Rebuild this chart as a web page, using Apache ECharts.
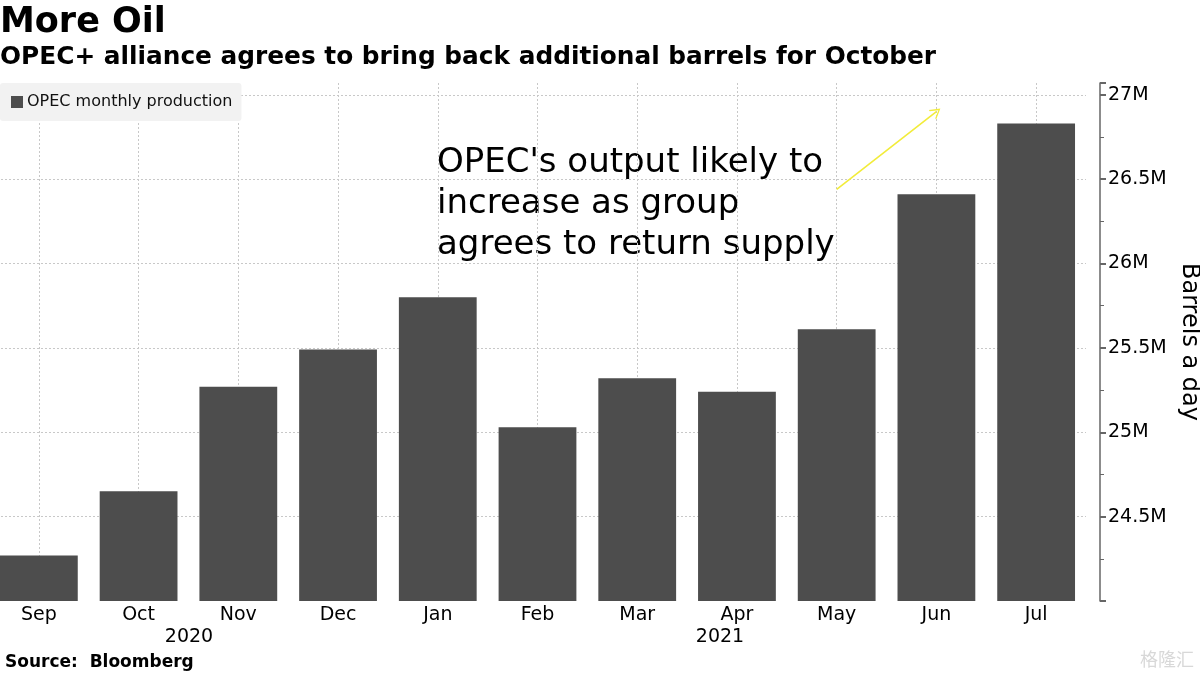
<!DOCTYPE html>
<html>
<head>
<meta charset="utf-8">
<script src="https://cdn.jsdelivr.net/npm/echarts@6/dist/echarts.min.js"></script>
<style>
  html, body { margin: 0; padding: 0; background: #fff; }
  #chart { width: 1200px; height: 675px; }
</style>
</head>
<body>
<div id="chart"></div>
<script>
// 月份 + 产量 (百万桶/日)
const months = ['Sep', 'Oct', 'Nov', 'Dec', 'Jan', 'Feb', 'Mar', 'Apr', 'May', 'Jun', 'Jul']
const production = [24.27, 24.65, 25.27, 25.49, 25.80, 25.03, 25.32, 25.24, 25.61, 26.41, 26.83]
const yearLabels = ['2020', '2021']
// arrow: from May to Jun, in data units
const arrowFrom = ['May', 26.44]
const arrowTo = ['Jun', 26.9]

const font = 'DejaVu Sans'
const chart = echarts.init(document.getElementById('chart'))

const option = {
  animation: false,
  textStyle: { fontFamily: font },
  grid: { left: -11, right: 114, top: 83, bottom: 74, outerBoundsMode: 'none', containLabel: false },
  legend: {
    left: 0,
    top: 83,
    backgroundColor: '#f2f2f2',
    borderRadius: 3,
    padding: [11, 9, 11, 11],
    icon: 'rect',
    itemWidth: 12,
    itemHeight: 12,
    itemGap: 4,
    textStyle: { fontSize: 16, color: '#111', fontFamily: font, padding: [0, 0, 0, -1] }
  },
  xAxis: {
    type: 'category',
    data: months,
    axisLine: { show: false },
    axisTick: { show: false },
    axisLabel: { fontSize: 19, color: '#000', margin: 5, interval: 0, fontFamily: font },
    splitLine: {
      show: true,
      alignWithLabel: true,
      interval: 0,
      lineStyle: { color: '#c8c8c8', type: [2, 2], width: 1 }
    }
  },
  yAxis: {
    type: 'value',
    position: 'right',
    offset: 14,
    min: 24,
    max: 27.07,
    interval: 0.5,
    name: 'Barrels a day',
    nameLocation: 'middle',
    nameRotate: -90,
    nameGap: 65,
    nameTextStyle: { fontSize: 24, color: '#000', fontFamily: font },
    axisLine: { show: true, lineStyle: { color: '#666', width: 1.5 } },
    axisTick: { show: true, length: 6, lineStyle: { color: '#666', width: 2 } },
    minorTick: { show: true, splitNumber: 2, length: 4, lineStyle: { color: '#666' } },
    axisLabel: {
      fontSize: 19,
      color: '#000',
      margin: 8,
      fontFamily: font,
      showMinLabel: false,
      showMaxLabel: false,
      formatter: (v) => (v >= 24.5 && Math.abs(v * 2 - Math.round(v * 2)) < 1e-6) ? v + 'M' : ''
    },
    splitLine: {
      show: true,
      showMinLine: false,
      showMaxLine: false,
      lineStyle: { color: '#c8c8c8', type: [2, 2], width: 1 }
    }
  },
  series: [
    {
      name: 'OPEC monthly production',
      type: 'bar',
      data: production,
      barCategoryGap: '22%',
      itemStyle: { color: '#4d4d4d' },
      markLine: {
        silent: true,
        symbol: ['none', 'path://M0,12 L6,0 L12,12 L10.5,12 L6,3 L1.5,12 Z'],
        symbolSize: [12, 10],
        label: { show: false },
        lineStyle: { color: '#f2ec3a', width: 1.6, type: 'solid' },
        itemStyle: { color: '#f2ec3a' },
        data: [[{ coord: arrowFrom }, { coord: arrowTo }]]
      }
    }
  ],
  graphic: [
    {
      type: 'text', left: 0, top: 5,
      style: { text: 'More Oil', font: 'bold 35px "DejaVu Sans"', fill: '#000' }
    },
    {
      type: 'text', left: 0, top: 45,
      style: { text: 'OPEC+ alliance agrees to bring back additional barrels for October', font: 'bold 24.8px "DejaVu Sans"', fill: '#000' }
    },
    {
      type: 'text', left: 437, top: 143,
      style: {
        text: "OPEC's output likely to\nincrease as group\nagrees to return supply",
        font: '34px "DejaVu Sans"', lineHeight: 41, fill: '#000'
      }
    },
    {
      type: 'text', x: 189, y: 637,
      style: { text: yearLabels[0], font: '19px "DejaVu Sans"', fill: '#000', align: 'center', verticalAlign: 'middle' }
    },
    {
      type: 'text', x: 720, y: 637,
      style: { text: yearLabels[1], font: '19px "DejaVu Sans"', fill: '#000', align: 'center', verticalAlign: 'middle' }
    },
    {
      type: 'text', left: 5, top: 654,
      style: { text: 'Source:  Bloomberg', font: 'bold 17px "DejaVu Sans"', fill: '#000' }
    },
    {
      type: 'text', right: 6, top: 650,
      style: { text: '格隆汇', font: '18px "Noto Sans CJK SC"', fill: '#d8d8d8' }
    }
  ]
}

chart.setOption(option)
</script>
</body>
</html>
